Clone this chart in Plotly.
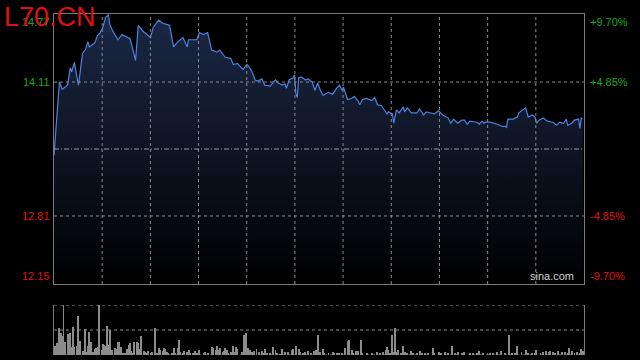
import plotly.graph_objects as go

# ---------------- data ----------------
prev_close = 13.46
price_min = 12.15
price_max = 14.77
session_minutes = 390

time_min = [0, 4, 6, 9, 10, 12, 13, 15, 16, 18, 19, 21, 23, 25, 26, 28, 30, 32, 34, 36, 38, 40, 41, 43,
            47, 50, 54, 56, 60, 62, 65, 71, 73, 77, 80, 85, 88, 91, 95, 98, 99, 105, 107, 110, 113,
            116, 120, 122, 126, 130, 132, 135, 139, 142, 143, 146, 148, 150, 153, 155, 159, 161, 163,
            165, 168, 170, 171, 173, 176, 177, 178, 179, 180, 182, 185, 187, 190, 192, 194, 196, 198,
            202, 205, 208, 210, 212, 213, 216, 219, 221, 224, 225, 227, 230, 234, 236, 238, 241, 244,
            245, 246, 249, 250, 252, 254, 257, 258, 260, 263, 267, 269, 272, 274, 278, 280, 283, 286,
            290, 292, 294, 297, 300, 302, 304, 306, 311, 313, 315, 316, 318, 321, 326, 330, 332, 333,
            334, 338, 341, 342, 344, 347, 349, 352, 354, 355, 357, 360, 363, 367, 370, 372, 375, 377,
            378, 381, 383, 386, 387, 388, 389]
price = [13.40, 14.11, 14.04, 14.07, 14.08, 14.25, 14.21, 14.30, 14.23, 14.08, 14.18, 14.39, 14.42,
         14.50, 14.45, 14.47, 14.49, 14.56, 14.59, 14.64, 14.74, 14.76, 14.67, 14.61, 14.52, 14.57,
         14.54, 14.53, 14.32, 14.66, 14.61, 14.54, 14.64, 14.71, 14.68, 14.66, 14.45, 14.50, 14.54,
         14.45, 14.52, 14.52, 14.59, 14.57, 14.59, 14.42, 14.40, 14.42, 14.35, 14.34, 14.28, 14.29,
         14.23, 14.28, 14.27, 14.20, 14.13, 14.12, 14.14, 14.08, 14.07, 14.10, 14.13, 14.10, 14.08,
         14.09, 14.05, 14.13, 14.15, 14.18, 14.00, 13.96, 14.15, 14.16, 14.13, 14.14, 14.11, 14.03,
         14.10, 14.03, 13.98, 14.01, 13.99, 14.05, 14.08, 14.03, 14.06, 13.94, 13.95, 13.97, 13.92,
         13.89, 13.94, 13.95, 13.93, 13.96, 13.89, 13.88, 13.82, 13.80, 13.82, 13.80, 13.71, 13.84,
         13.81, 13.87, 13.82, 13.86, 13.81, 13.81, 13.85, 13.79, 13.82, 13.81, 13.80, 13.83, 13.79,
         13.76, 13.71, 13.75, 13.71, 13.74, 13.74, 13.70, 13.73, 13.72, 13.70, 13.73, 13.71, 13.72,
         13.72, 13.70, 13.68, 13.68, 13.67, 13.75, 13.75, 13.77, 13.81, 13.83, 13.86, 13.77, 13.79,
         13.77, 13.71, 13.74, 13.76, 13.73, 13.72, 13.69, 13.72, 13.71, 13.75, 13.69, 13.71, 13.74,
         13.75, 13.66, 13.76, 13.75]

vol_min = [1, 2, 4, 5, 6, 7, 8, 10, 11, 12, 13, 14, 15, 17, 18, 19, 21, 22, 23, 24, 25, 26, 27, 29, 30,
           31, 32, 33, 35, 36, 37, 38, 39, 40, 41, 42, 43, 45, 46, 47, 48, 49, 51, 52, 54, 55, 56, 57,
           58, 59, 61, 62, 63, 64, 66, 67, 68, 69, 71, 72, 74, 76, 77, 78, 80, 81, 82, 83, 84, 87, 88,
           89, 91, 92, 93, 95, 96, 98, 99, 100, 102, 104, 105, 107, 110, 111, 113, 116, 117, 119, 120,
           121, 122, 124, 125, 126, 127, 128, 130, 132, 133, 134, 135, 138, 140, 141, 143, 144, 146,
           147, 149, 151, 153, 154, 155, 157, 159, 161, 163, 164, 166, 168, 170, 172, 175, 176, 178,
           180, 181, 183, 185, 187, 189, 191, 193, 194, 196, 198, 199, 202, 205, 206, 208, 210, 212,
           214, 216, 217, 219, 220, 222, 223, 224, 226, 227, 230, 234, 238, 240, 242, 244, 245, 246,
           247, 249, 250, 251, 252, 253, 255, 257, 258, 260, 263, 264, 267, 269, 271, 273, 275, 279,
           280, 283, 285, 288, 290, 293, 295, 297, 300, 302, 306, 308, 311, 313, 316, 319, 321, 323,
           326, 329, 332, 335, 337, 339, 341, 344, 347, 349, 352, 354, 355, 358, 360, 362, 364, 365,
           367, 369, 371, 374, 376, 378, 379, 381, 383, 385, 387, 388, 389]
volume = [900, 1200, 2700, 2200, 1900, 5000, 1300, 2100, 1900, 2200, 800, 2800, 800, 900, 3900, 1400,
          400, 200, 2600, 300, 900, 2300, 1300, 300, 600, 700, 800, 5000, 500, 1100, 1000, 900, 2900,
          1000, 2500, 300, 500, 700, 600, 1300, 1300, 800, 200, 200, 600, 1000, 1200, 400, 200, 1300,
          1300, 1200, 600, 1900, 400, 300, 200, 400, 200, 300, 2700, 200, 700, 500, 400, 700, 600, 300,
          200, 200, 700, 200, 700, 1500, 300, 200, 400, 300, 500, 200, 200, 400, 200, 500, 200, 300,
          200, 800, 700, 500, 900, 500, 700, 300, 400, 700, 500, 200, 300, 900, 300, 800, 600, 300,
          2000, 2200, 700, 500, 300, 400, 600, 300, 400, 200, 600, 200, 200, 800, 500, 200, 100, 600,
          300, 300, 500, 600, 900, 600, 300, 200, 300, 400, 200, 400, 500, 2000, 300, 600, 200, 200,
          300, 200, 200, 200, 200, 700, 1400, 1500, 500, 200, 400, 300, 400, 1500, 200, 200, 200, 300,
          200, 300, 500, 800, 500, 200, 2000, 300, 2700, 300, 500, 200, 900, 300, 200, 400, 200, 200,
          400, 200, 200, 200, 700, 200, 300, 200, 300, 200, 900, 200, 300, 200, 300, 200, 200, 200,
          400, 200, 200, 200, 200, 300, 400, 200, 2000, 200, 200, 900, 300, 500, 200, 200, 200, 500,
          200, 300, 400, 300, 400, 300, 200, 400, 300, 300, 200, 700, 400, 200, 300, 200, 600, 400]
vol_max = 5000

price_ticks = [14.77, 14.11, 12.81, 12.15]
pct_ticks = ["+9.70%", "+4.85%", "-4.85%", "-9.70%"]
title_text = "L70.CN"
watermark = "sina.com"

# ---------------- styles ----------------
GREEN = "#1aa81a"
RED = "#e01010"
GRID = "#8a8a8a"
FRAME = "#7a7a7a"
FONT = "Liberation Sans, Arial, sans-serif"
N_VDIV = 11

fig = go.Figure()

fig.add_trace(go.Scatter(
    x=time_min, y=price, mode="lines",
    line=dict(color="#4d82dc", width=1.2),
    fill="tozeroy",
    fillgradient=dict(type="vertical", colorscale=[[0, "#000000"], [1, "#1b2846"]],
                      start=price_min, stop=price_max),
    xaxis="x", yaxis="y", hoverinfo="skip", showlegend=False,
))

fig.add_trace(go.Bar(
    x=vol_min, y=volume, width=0.7,
    marker=dict(color="#8c8c8c", line=dict(width=0)),
    xaxis="x2", yaxis="y2", hoverinfo="skip", showlegend=False,
))

xdom = [54 / 640, 584 / 640]
fig.update_layout(
    width=640, height=360,
    margin=dict(l=0, r=0, t=0, b=0),
    paper_bgcolor="#000000", plot_bgcolor="#000000",
    font=dict(family=FONT, size=11, color="#cccccc"),
    bargap=0,
    xaxis=dict(domain=xdom, range=[0, session_minutes], showticklabels=False, ticks="",
               showgrid=False, zeroline=False, showline=True, linecolor=FRAME, linewidth=1,
               mirror=True),
    yaxis=dict(domain=[76 / 360, 346 / 360], range=[price_min, price_max], showticklabels=False,
               ticks="", showgrid=False, zeroline=False,
               showline=True, linecolor=FRAME, linewidth=1, mirror=True),
    xaxis2=dict(domain=xdom, range=[0, session_minutes], anchor="y2", showticklabels=False,
                ticks="", showgrid=False, zeroline=False, showline=False),
    yaxis2=dict(domain=[5 / 360, 55 / 360], range=[0, vol_max], anchor="x2",
                showticklabels=False, ticks="", showgrid=False, zeroline=False,
                showline=True, linecolor=FRAME, linewidth=1, mirror=True),
)

grid_line = dict(color=GRID, width=1, dash="dot")
# vertical grid in the price panel (drawn above the fill)
for k in range(1, N_VDIV):
    fig.add_shape(type="line", xref="x domain", yref="y domain", x0=k / N_VDIV, x1=k / N_VDIV,
                  y0=0, y1=1, line=grid_line, layer="above")
# horizontal grid at inner price ticks
for val in price_ticks[1:3]:
    fig.add_shape(type="line", xref="x domain", yref="y", x0=0, x1=1, y0=val, y1=val,
                  line=grid_line, layer="above")
# volume panel dotted lines
for v in [0, vol_max / 2, vol_max]:
    fig.add_shape(type="line", xref="x2 domain", yref="y2", x0=0, x1=1, y0=v, y1=v,
                  line=grid_line, layer="above")

# previous close dash-dot line
fig.add_shape(type="line", xref="x domain", yref="y", x0=0, x1=1,
              y0=prev_close, y1=prev_close,
              line=dict(color="#9a9a9a", width=1, dash="5px,2px,1px,2px"), layer="above")

annos = []
colors = [GREEN, GREEN, RED, RED]
yanch = ["top", "middle", "middle", "bottom"]
for val, pct, col, ya in zip(price_ticks, pct_ticks, colors, yanch):
    annos.append(dict(xref="paper", yref="y", x=52 / 640, y=val, text=f"{val:.2f}",
                      xanchor="right", yanchor=ya, showarrow=False,
                      font=dict(family=FONT, size=11, color=col)))
    annos.append(dict(xref="paper", yref="y", x=588 / 640, y=val, text=pct,
                      xanchor="left", yanchor=ya, showarrow=False,
                      font=dict(family=FONT, size=11, color=col)))
annos.append(dict(xref="paper", yref="paper", x=2 / 640, y=1.0, text=title_text,
                  xanchor="left", yanchor="top", showarrow=False,
                  font=dict(family=FONT, size=27, color=RED)))
annos.append(dict(xref="paper", yref="paper", x=576 / 640, y=76 / 360, text=watermark,
                  xanchor="right", yanchor="bottom", showarrow=False,
                  font=dict(family=FONT, size=11, color="#d0d0d0")))
fig.update_layout(annotations=annos)

fig.write_html("out.html")
